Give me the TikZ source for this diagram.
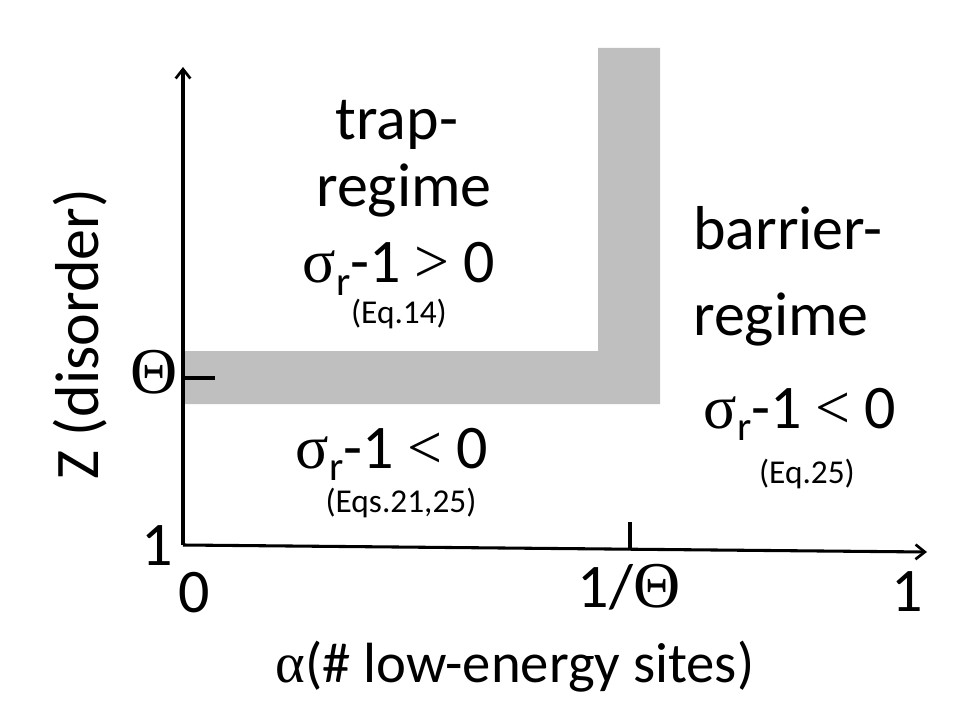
\documentclass[tikz,border=0pt]{standalone}
\usepackage{fontspec}
\usepackage{tikz}
\usetikzlibrary{arrows.meta}
\setmainfont{Carlito}
\newfontfamily\symb{Liberation Serif}
\newcommand{\sigr}{{\symb σ}\raisebox{-0.2em}{\scalebox{0.66}{r}}}
\newcommand{\thet}{{\symb\fontsize{49}{52}\selectfont Θ}}

\begin{document}
\begin{tikzpicture}[x=0.75pt,y=-0.75pt,
	big/.style={anchor=base,inner sep=0pt,font=\fontsize{46.5}{50}\selectfont},
	small/.style={anchor=base,inner sep=0pt,font=\fontsize{25}{28}\selectfont},
	axis/.style={line width=2.3pt,-{Straight Barb[length=7pt,width=11pt,line width=2pt]}},
	tick/.style={line width=2.3pt}]

	\useasboundingbox (0,0) rectangle (960,720);

	% crossover band
	\fill[gray!50] (185,351) -- (598,351) -- (598,48) -- (660,48) -- (660,404) -- (185,404) -- cycle;

	\coordinate (origin) at (183,545);
	\coordinate (ytop) at (183,67);
	\coordinate (xend) at (927,552);
	\coordinate (thA) at (183,378);
	\coordinate (thB) at (215,378);
	\coordinate (invA) at (630,522);
	\coordinate (invB) at (630,549);

	\draw[axis] (origin) -- (ytop);
	\draw[axis] (origin) -- (xend);
	\draw[tick] (thA) -- (thB);
	\draw[tick] (invA) -- (invB);

	% trap regime
	\node[big] (trapA) at (397,140) {trap-};
	\node[big] (trapB) at (404,207) {regime};
	\node[big] (trapC) at (399,283) {\sigr-1 {\symb >} 0};
	\node[small] (trapD) at (399,323) {(Eq.14)};

	% barrier regime
	\node[big,anchor=base west] (barA) at (693,250) {barrier-};
	\node[big,anchor=base west] (barB) at (693,335) {regime};
	\node[big] (barC) at (800,428) {\sigr-1 {\symb <} 0};
	\node[small] (barD) at (807,483) {(Eq.25)};

	% low disorder
	\node[big] (lowA) at (392,468) {\sigr-1 {\symb <} 0};
	\node[small] (lowB) at (401,512) {(Eqs.21,25)};

	% tick labels
	\node[big] (thLab) at (154,393) {\thet};
	\node[big] (oneY) at (157,565) {1};
	\node[big] (zeroX) at (194,612) {0};
	\node[big] (invLab) at (629,607) {1/\thet};
	\node[big] (oneX) at (907,611) {1};

	% axis labels
	\node[inner sep=0pt,rotate=90,font=\fontsize{46.5}{50}\selectfont] (ylab) at (80,334) {Z (disorder)};
	\node[anchor=base,inner sep=0pt,font=\fontsize{42.5}{46}\selectfont] (xlab) at (515,682) {{\symb α}(\# low-energy sites)};

\end{tikzpicture}
\end{document}
